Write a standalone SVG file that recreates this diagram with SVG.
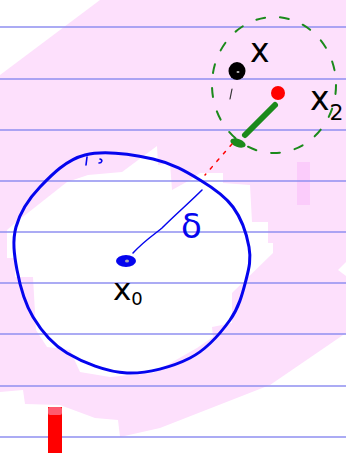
<svg xmlns="http://www.w3.org/2000/svg" width="346" height="453" viewBox="0 0 346 453">
<style>
.rule{stroke:#8f8ff0;stroke-width:1.6}
.lbl{font-family:"DejaVu Sans",sans-serif;fill:#000}
.ink{fill:none;stroke-linecap:round;stroke-linejoin:round}
</style>
<rect width="346" height="453" fill="#fff"/>
<g id="paper">
<polygon fill="#fde0fc" points="100,0 346,0 346,262 338,270 346,276 346,333 270,385 160,428 120,437 118,420 95,418 60,405 25,404 23,390 0,392 0,75"/>
<polygon fill="#fff" points="88,175 122,172 157,146 158,165 170,163 172,190 190,180 200,173 223,173 223,183 250,185 252,222 268,222 268,243 273,243 273,253 232,293 232,323 212,327 213,337 197,348 153,373 110,377 80,372 70,350 47,347 36,330 33,277 15,277 15,258 7,258 7,230 15,223 67,182"/>
<rect x="297" y="162" width="13" height="43" fill="#fbccfb"/>
<g class="rule">
<line x1="0" y1="27" x2="346" y2="27"/>
<line x1="0" y1="79" x2="346" y2="79"/>
<line x1="0" y1="130" x2="346" y2="130"/>
<line x1="0" y1="181" x2="346" y2="181"/>
<line x1="0" y1="232" x2="346" y2="232"/>
<line x1="0" y1="283" x2="346" y2="283"/>
<line x1="0" y1="334" x2="346" y2="334"/>
<line x1="0" y1="386" x2="346" y2="386"/>
<line x1="0" y1="437" x2="346" y2="437"/>
</g>
</g>
<g id="ball">
<path class="ink" stroke="#0505ee" stroke-width="3" d="M85,155 C103.8,150.3 133.8,154.8 153,159 C172.2,163.2 186.7,172 200,180 C213.3,188 224.8,195.8 233,207 C241.2,218.2 246.8,234.8 249,247 C251.2,259.2 249.2,267.8 246,280 C242.8,292.2 239.3,307 230,320 C220.7,333 207.2,349.2 190,358 C172.8,366.8 147.5,373.8 127,373 C106.5,372.2 82.7,362.3 67,353 C51.3,343.7 41.3,330.8 33,317 C24.7,303.2 19.8,285 17,270 C14.2,255 12.2,240.8 16,227 C19.8,213.2 28.5,199 40,187 C51.5,175 66.2,159.7 85,155 Z"/>
<path class="ink" stroke="#0505ee" stroke-width="1.6" d="M87,157 L86,165 M100,159 C103,160 102,163 99,163"/>
</g>
<g id="x0">
<ellipse cx="126" cy="261" rx="10" ry="6" fill="#0505ee"/>
<ellipse cx="127" cy="261" rx="2" ry="1.5" fill="#aab"/>
<text class="lbl" x="113" y="300" font-size="31">x<tspan font-size="18" dy="5">0</tspan></text>
</g>
<g id="delta">
<text x="181" y="238" font-family="DejaVu Sans,sans-serif" font-size="34" fill="#0505ee">δ</text>
</g>
<g id="neighbourhood">
<ellipse cx="274" cy="85" rx="62" ry="68" fill="none" stroke="#1b8a1b" stroke-width="2" stroke-dasharray="9 15" stroke-linecap="round"/>
</g>
<g id="x">
<ellipse cx="237" cy="71" rx="8.5" ry="9" fill="#000"/>
<ellipse cx="238" cy="72" rx="1.5" ry="1" fill="#bbb"/>
<text class="lbl" x="250" y="62" font-size="33">x</text>
<path class="ink" stroke="#333" stroke-width="1.2" d="M232,89 L230,99"/>
</g>
<g id="x2">
<circle cx="278" cy="93" r="7" fill="#f00"/>
<ellipse cx="238" cy="143" rx="8" ry="4" fill="#1b8a1b" transform="rotate(20 238 143)"/>
<text class="lbl" x="310" y="110" font-size="33">x<tspan font-size="22" dy="10">2</tspan></text>
</g>
<g id="connectors">
<path class="ink" stroke="#0505ee" stroke-width="1.5" d="M133,253 C145,240 155,234 162,228 C175,215 190,202 202,190"/>
<path class="ink" stroke="#1b8a1b" stroke-width="6" d="M275,105 L245,135"/>
<path class="ink" stroke="#f00" stroke-width="1.5" stroke-dasharray="3 7" d="M232,144 L205,175"/>
</g>
<g id="marker">
<rect x="48" y="407" width="14" height="46" fill="#f00"/>
<rect x="48" y="407" width="14" height="8" rx="2" fill="#ff5a6e"/>
</g>
</svg>
